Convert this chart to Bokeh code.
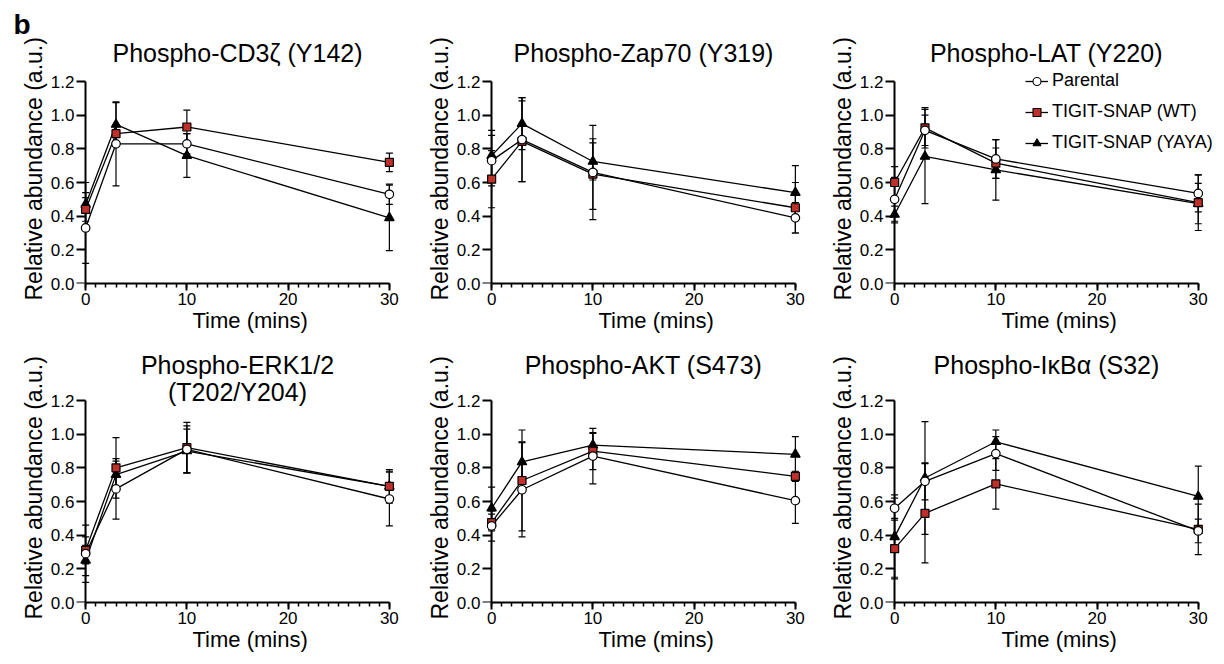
import numpy as np
from bokeh.plotting import figure
from bokeh.layouts import gridplot
from bokeh.models import (ColumnDataSource, Whisker, TeeHead, Title, Label, Legend, LegendItem,
                          FixedTicker, PrintfTickFormatter, Range1d, LinearAxis)
from bokeh.embed import file_html
from bokeh.resources import INLINE

# ---------------- data ----------------
times = [0, 3, 10, 30]
titles = ["Phospho-CD3ζ (Y142)", "Phospho-Zap70 (Y319)", "Phospho-LAT (Y220)",
          "Phospho-ERK1/2\n(T202/Y204)", "Phospho-AKT (S473)", "Phospho-IκBα (S32)"]
series_names = ["Parental", "TIGIT-SNAP (WT)", "TIGIT-SNAP (YAYA)"]
y_ticks = [0.0, 0.2, 0.4, 0.6, 0.8, 1.0, 1.2]
x_ticks = [0, 10, 20, 30]
x_minor_ticks = list(range(0, 31))

parental_mean = [
    [0.33, 0.83, 0.83, 0.53],
    [0.73, 0.855, 0.66, 0.39],
    [0.50, 0.91, 0.74, 0.535],
    [0.29, 0.675, 0.91, 0.615],
    [0.455, 0.67, 0.87, 0.605],
    [0.56, 0.72, 0.885, 0.425],
]
parental_sd = [
    [0.21, 0.25, 0.06, 0.06],
    [0.15, 0.25, 0.28, 0.09],
    [0.13, 0.09, 0.115, 0.11],
    [0.17, 0.18, 0.14, 0.16],
    [0.09, 0.28, 0.165, 0.135],
    [0.06, 0.11, 0.10, 0.07],
]
wt_mean = [
    [0.44, 0.89, 0.93, 0.72],
    [0.62, 0.845, 0.65, 0.45],
    [0.60, 0.925, 0.715, 0.48],
    [0.31, 0.80, 0.92, 0.69],
    [0.475, 0.725, 0.90, 0.75],
    [0.32, 0.53, 0.705, 0.435],
]
wt_sd = [
    [0.07, 0.05, 0.10, 0.055],
    [0.17, 0.24, 0.21, 0.15],
    [0.095, 0.12, 0.09, 0.165],
    [0.08, 0.18, 0.15, 0.10],
    [0.05, 0.30, 0.11, 0.03],
    [0.17, 0.295, 0.15, 0.15],
]
yaya_mean = [
    [0.47, 0.945, 0.76, 0.39],
    [0.76, 0.95, 0.725, 0.54],
    [0.41, 0.755, 0.675, 0.475],
    [0.25, 0.76, 0.90, 0.69],
    [0.56, 0.835, 0.935, 0.88],
    [0.39, 0.74, 0.955, 0.63],
]
yaya_sd = [
    [0.13, 0.13, 0.13, 0.195],
    [0.15, 0.155, 0.11, 0.16],
    [0.05, 0.28, 0.18, 0.12],
    [0.09, 0.08, 0.13, 0.09],
    [0.125, 0.12, 0.07, 0.105],
    [0.25, 0.335, 0.07, 0.18],
]

# ---------------- style / layout ----------------
FONT = "Liberation Sans"
RED = "#c0302a"
PX_PER_UNIT = 168.3
markers = ["circle", "square", "triangle"]
fills = ["white", RED, "black"]
msizes = [8.5, 8, 9.5]
means = [parental_mean, wt_mean, yaya_mean]
sds = [parental_sd, wt_sd, yaya_sd]

left_borders = [75, 67, 67]
right_borders = [15, 12, 4]
x_ends = [31, 31, 32]
top_borders = [41, 0]
frame_heights = [242, 252]
bottom_borders = [67, 56]
title_baselines = [1.372, 1.414]
line_step = 0.161


def make_panel(idx):
    r, c = divmod(idx, 3)
    fw = int(round((x_ends[c] + 1) * 10.125))
    fh = frame_heights[r]
    p = figure(x_range=Range1d(-1, x_ends[c]), y_range=Range1d(0, fh / PX_PER_UNIT),
               frame_width=fw, frame_height=fh,
               min_border_left=left_borders[c], min_border_right=right_borders[c],
               min_border_top=top_borders[r], min_border_bottom=bottom_borders[r],
               toolbar_location=None, output_backend="svg", title=None)
    p.outline_line_color = None
    p.grid.visible = False
    p.background_fill_color = "white"
    p.border_fill_color = "white"

    # x axis (below, at y = 0)
    xa = p.xaxis[0]
    xa.bounds = (0, 30)
    xa.ticker = FixedTicker(ticks=x_ticks, minor_ticks=x_minor_ticks)
    xa.axis_line_width = 2
    xa.axis_line_color = "black"
    xa.major_tick_line_width = 2
    xa.major_tick_line_color = "black"
    xa.minor_tick_line_width = 1.5
    xa.minor_tick_line_color = "black"
    xa.major_tick_in = 0
    xa.minor_tick_in = 0
    xa.major_tick_out = 7
    xa.minor_tick_out = 4
    xa.major_label_standoff = 2
    xa.major_label_text_font = FONT
    xa.major_label_text_font_size = "17px"
    xa.major_label_text_color = "black"

    # y tick labels only (left panel)
    ya = p.yaxis[0]
    ya.bounds = (0, 1.2)
    ya.ticker = FixedTicker(ticks=y_ticks)
    ya.formatter = PrintfTickFormatter(format="%.1f")
    ya.axis_line_color = None
    ya.major_tick_line_color = None
    ya.minor_tick_line_color = None
    ya.major_tick_in = 0
    ya.major_tick_out = 0
    ya.major_label_standoff = 1
    ya.major_label_text_font = FONT
    ya.major_label_text_font_size = "17px"
    ya.major_label_text_color = "black"

    # y axis line + ticks drawn at x = 0
    yl = LinearAxis(fixed_location=0, bounds=(0, 1.2),
                    ticker=FixedTicker(ticks=[], minor_ticks=y_ticks),
                    axis_line_width=2, axis_line_color="black",
                    minor_tick_line_width=2, minor_tick_line_color="black",
                    major_tick_in=0, major_tick_out=0, minor_tick_in=9, minor_tick_out=0,
                    major_label_standoff=0)
    p.add_layout(yl, "right")

    # axis titles
    p.add_layout(Title(text="Relative abundance (a.u.)", align="left", offset=-17,
                       vertical_align="bottom", standoff=2, text_font=FONT,
                       text_font_size="23px", text_font_style="normal",
                       text_color="black"), "left")
    p.add_layout(Title(text="Time (mins)", align="left", offset=117,
                       vertical_align="top", standoff=0, text_font=FONT,
                       text_font_size="22px", text_font_style="normal",
                       text_color="black"), "below")

    # panel title (inside the extended frame, above the y axis top)
    for k, t in enumerate(titles[idx].split("\n")):
        p.add_layout(Label(x=15, y=title_baselines[r] - line_step * k, text=t,
                           text_font=FONT, text_font_size="25px", text_align="center",
                           text_baseline="alphabetic", text_color="black"))

    if idx == 0:
        p.add_layout(Title(text="b", align="left", offset=-62, vertical_align="bottom",
                           standoff=3, text_font=FONT, text_font_size="28px",
                           text_font_style="bold", text_color="black"), "above")

    order = [2, 1, 0]
    srcs = {}
    for s in order:
        m = np.array(means[s][idx])
        e = np.array(sds[s][idx])
        srcs[s] = ColumnDataSource(dict(x=times, y=m, upper=m + e, lower=m - e))
        w = Whisker(source=srcs[s], base="x", upper="upper", lower="lower",
                    dimension="height", line_color="black", line_width=1.2,
                    upper_head=TeeHead(size=7, line_width=1.2, line_color="black"),
                    lower_head=TeeHead(size=7, line_width=1.2, line_color="black"))
        w.level = "underlay"
        p.add_layout(w)
    for s in order:
        p.line("x", "y", source=srcs[s], line_color="black", line_width=1.3)
    for s in order:
        p.scatter("x", "y", source=srcs[s], marker=markers[s], size=msizes[s],
                  fill_color=fills[s], line_color="black", line_width=1.2,
                  level="annotation")

    if idx == 2:
        items = []
        for s in range(3):
            dummy = ColumnDataSource(dict(x=np.array([np.nan]), y=np.array([np.nan])))
            lr = p.line("x", "y", source=dummy, line_color="black", line_width=1.3)
            sr = p.scatter("x", "y", source=dummy, marker=markers[s], size=6,
                           fill_color=fills[s], line_color="black", line_width=1.1)
            items.append(LegendItem(label=series_names[s], renderers=[lr, sr]))
        leg = Legend(items=items, location=(141, 130), padding=0, margin=0, spacing=10,
                     label_height=20, glyph_height=20, glyph_width=23, label_standoff=4,
                     label_text_font=FONT, label_text_font_size="18px",
                     label_text_color="black", background_fill_alpha=0,
                     border_line_alpha=0)
        p.add_layout(leg)
    return p


panels = [make_panel(i) for i in range(6)]
grid = gridplot([panels[0:3], panels[3:6]], toolbar_location=None)

open("out.html", "w").write(file_html(grid, INLINE))
